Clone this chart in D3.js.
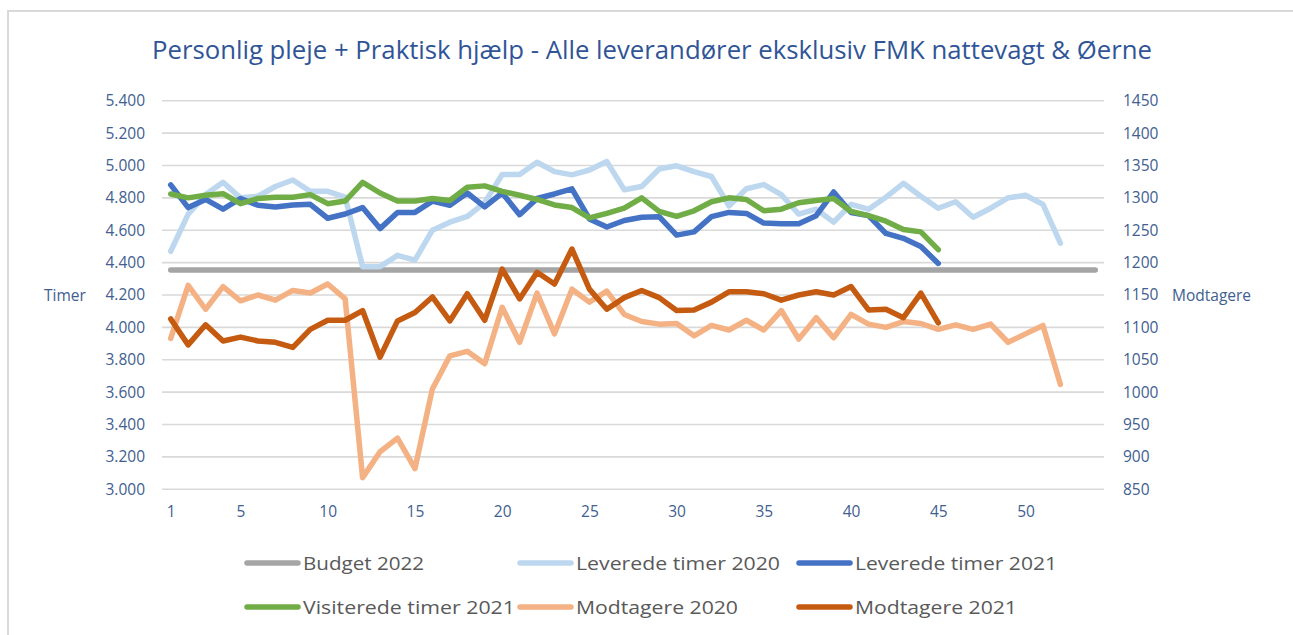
<!DOCTYPE html>
<html><head><meta charset="utf-8">
<script src="https://cdn.jsdelivr.net/npm/d3@7/dist/d3.min.js"></script>
<style>body{margin:0;background:#fff;overflow:hidden} svg{display:block}</style>
</head><body><svg id="c" width="1293" height="635"></svg>
<script>
// ---------- DATA ----------
const chartTitle = "Personlig pleje + Praktisk hjælp - Alle leverandører eksklusiv FMK nattevagt & Øerne";
const leftAxisTitle = "Timer";
const rightAxisTitle = "Modtagere";
const xTickValues = [1, 5, 10, 15, 20, 25, 30, 35, 40, 45, 50];
const leftTicks = [3000, 3200, 3400, 3600, 3800, 4000, 4200, 4400, 4600, 4800, 5000, 5200, 5400];
const rightTicks = [850, 900, 950, 1000, 1050, 1100, 1150, 1200, 1250, 1300, 1350, 1400, 1450];
const seriesNames = ["Budget 2022", "Leverede timer 2020", "Leverede timer 2021",
                     "Visiterede timer 2021", "Modtagere 2020", "Modtagere 2021"];

const budget2022 = [4355,4355,4355,4355,4355,4355,4355,4355,4355,4355,4355,4355,4355,4355,4355,4355,4355,4355,
  4355,4355,4355,4355,4355,4355,4355,4355,4355,4355,4355,4355,4355,4355,4355,4355,4355,4355,
  4355,4355,4355,4355,4355,4355,4355,4355,4355,4355,4355,4355,4355,4355,4355,4355,4355,4355];
const leverede2020 = [4470,4700,4820,4896,4800,4810,4870,4910,4840,4840,4804,4375,4375,4445,4415,4600,4650,4685,
  4770,4944,4944,5020,4962,4942,4972,5024,4850,4870,4978,4998,4962,4932,4750,4856,4882,4820,
  4700,4730,4650,4760,4730,4804,4890,4810,4736,4776,4680,4736,4800,4816,4760,4520];
const leverede2021 = [4880,4740,4790,4730,4796,4754,4744,4756,4760,4674,4700,4740,4610,4710,4710,4780,4754,4830,
  4744,4830,4696,4796,4824,4856,4670,4620,4660,4680,4684,4570,4590,4684,4710,4704,4644,4640,
  4640,4690,4836,4710,4690,4580,4550,4500,4395];
const visiterede2021 = [4824,4800,4816,4826,4764,4796,4804,4804,4820,4764,4780,4896,4830,4780,4780,4796,4784,4866,
  4874,4840,4816,4790,4756,4740,4676,4704,4736,4800,4716,4686,4720,4776,4800,4790,4720,4730,
  4770,4784,4796,4716,4690,4656,4604,4590,4480];
const modtagere2020 = [1083,1165,1128,1163,1141,1150,1142,1157,1153,1167,1144,868,908,929,882,1005,1056,1063,
  1044,1131,1077,1153,1090,1159,1139,1156,1120,1109,1105,1106,1087,1103,1096,1111,1096,1126,
  1082,1115,1084,1120,1105,1100,1109,1106,1097,1104,1097,1105,1077,1090,1103,1012];
const modtagere2021 = [1113,1073,1104,1079,1085,1079,1077,1069,1097,1111,1111,1126,1054,1110,1123,1147,1110,1152,
  1111,1190,1144,1185,1167,1221,1159,1128,1146,1157,1146,1126,1127,1139,1155,1155,1152,1142,
  1150,1155,1150,1163,1127,1128,1115,1153,1107];

// ---------- STYLE / LAYOUT ----------
const colors = ["#A5A5A5", "#BDD7EE", "#4472C4", "#70AD47", "#F4B183", "#C55A11"];
const axisSide = ["left", "left", "left", "left", "right", "right"];
const seriesData = [budget2022, leverede2020, leverede2021, visiterede2021, modtagere2020, modtagere2021];
const series = seriesNames.map((n, i) => ({name: n, data: seriesData[i], color: colors[i], axis: axisSide[i]}));

const W = 1293, H = 635;
const plot = {left: 162, right: 1104, top: 100.7, bottom: 489.3};
const font = "'Open Sans', 'Noto Sans', sans-serif";
const tickColor = "#41608F";

const svg = d3.select("#c");

// chart border (only top & left visible in reference)
svg.append("rect").attr("x", 8).attr("y", 11).attr("width", W + 20).attr("height", H + 20)
  .attr("fill", "#fff").attr("stroke", "#D9D9D9").attr("stroke-width", 2);

const x = d3.scaleLinear().domain([0.5, 54.5]).range([plot.left, plot.right]);
const yL = d3.scaleLinear().domain([3000, 5400]).range([plot.bottom, plot.top]);
const yR = d3.scaleLinear().domain([850, 1450]).range([plot.bottom, plot.top]);

const loc = d3.formatLocale({decimal: ",", thousands: ".", grouping: [3], currency: ["", ""]});
const fmtL = loc.format(",.0f");

// gridlines
svg.append("g").selectAll("line").data(leftTicks).join("line")
  .attr("x1", plot.left).attr("x2", plot.right)
  .attr("y1", d => yL(d)).attr("y2", d => yL(d))
  .attr("stroke", "#D9D9D9").attr("stroke-width", 1.6);

// left axis
const gL = svg.append("g").attr("transform", `translate(${plot.left},0)`)
  .call(d3.axisLeft(yL).tickValues(leftTicks).tickFormat(fmtL).tickSize(0).tickPadding(17));
// right axis
const gR = svg.append("g").attr("transform", `translate(${plot.right},0)`)
  .call(d3.axisRight(yR).tickValues(rightTicks).tickFormat(d3.format("d")).tickSize(0).tickPadding(19));
// bottom axis
const gB = svg.append("g").attr("transform", `translate(0,${plot.bottom})`)
  .call(d3.axisBottom(x).tickValues(xTickValues).tickFormat(d3.format("d")).tickSize(0).tickPadding(17));

[gL, gR, gB].forEach(g => {
  g.select(".domain").remove();
  g.selectAll("text").attr("fill", tickColor).style("font-family", font).style("font-size", "15.5px");
});

// axis titles
svg.append("text").attr("x", 44).attr("y", 301).text(leftAxisTitle)
  .attr("fill", tickColor).style("font-family", font).style("font-size", "15.5px");
svg.append("text").attr("x", 1172).attr("y", 301).text(rightAxisTitle)
  .attr("fill", tickColor).style("font-family", font).style("font-size", "15.5px");

// title
svg.append("text").attr("x", 652).attr("y", 59).attr("text-anchor", "middle").text(chartTitle)
  .attr("fill", "#2F5597").style("font-family", font).style("font-size", "25px")
  .attr("textLength", 1000).attr("lengthAdjust", "spacingAndGlyphs");

// lines
const lineGen = s => d3.line()
  .x((d, i) => x(i + 1))
  .y(d => (s.axis === "left" ? yL : yR)(d));
svg.append("g").selectAll("path").data(series).join("path")
  .attr("d", s => lineGen(s)(s.data))
  .attr("fill", "none").attr("stroke", s => s.color).attr("stroke-width", 5.5)
  .attr("stroke-linecap", "round").attr("stroke-linejoin", "round");

// legend
const legX = [245, 518, 797], legY = [563, 607];
const legW = [121, 204, 202, 212, 162, 162];
const leg = svg.append("g").selectAll("g").data(series).join("g")
  .attr("transform", (d, i) => `translate(${legX[i % 3]},${legY[Math.floor(i / 3)]})`);
leg.append("line").attr("x1", 2).attr("x2", 53).attr("y1", 0).attr("y2", 0)
  .attr("stroke", d => d.color).attr("stroke-width", 5.5).attr("stroke-linecap", "round");
leg.append("text").attr("x", 58).attr("y", 7).text(d => d.name)
  .attr("fill", "#595959").style("font-family", font).style("font-size", "19px")
  .attr("textLength", (d, i) => legW[i]).attr("lengthAdjust", "spacingAndGlyphs");
</script></body></html>
